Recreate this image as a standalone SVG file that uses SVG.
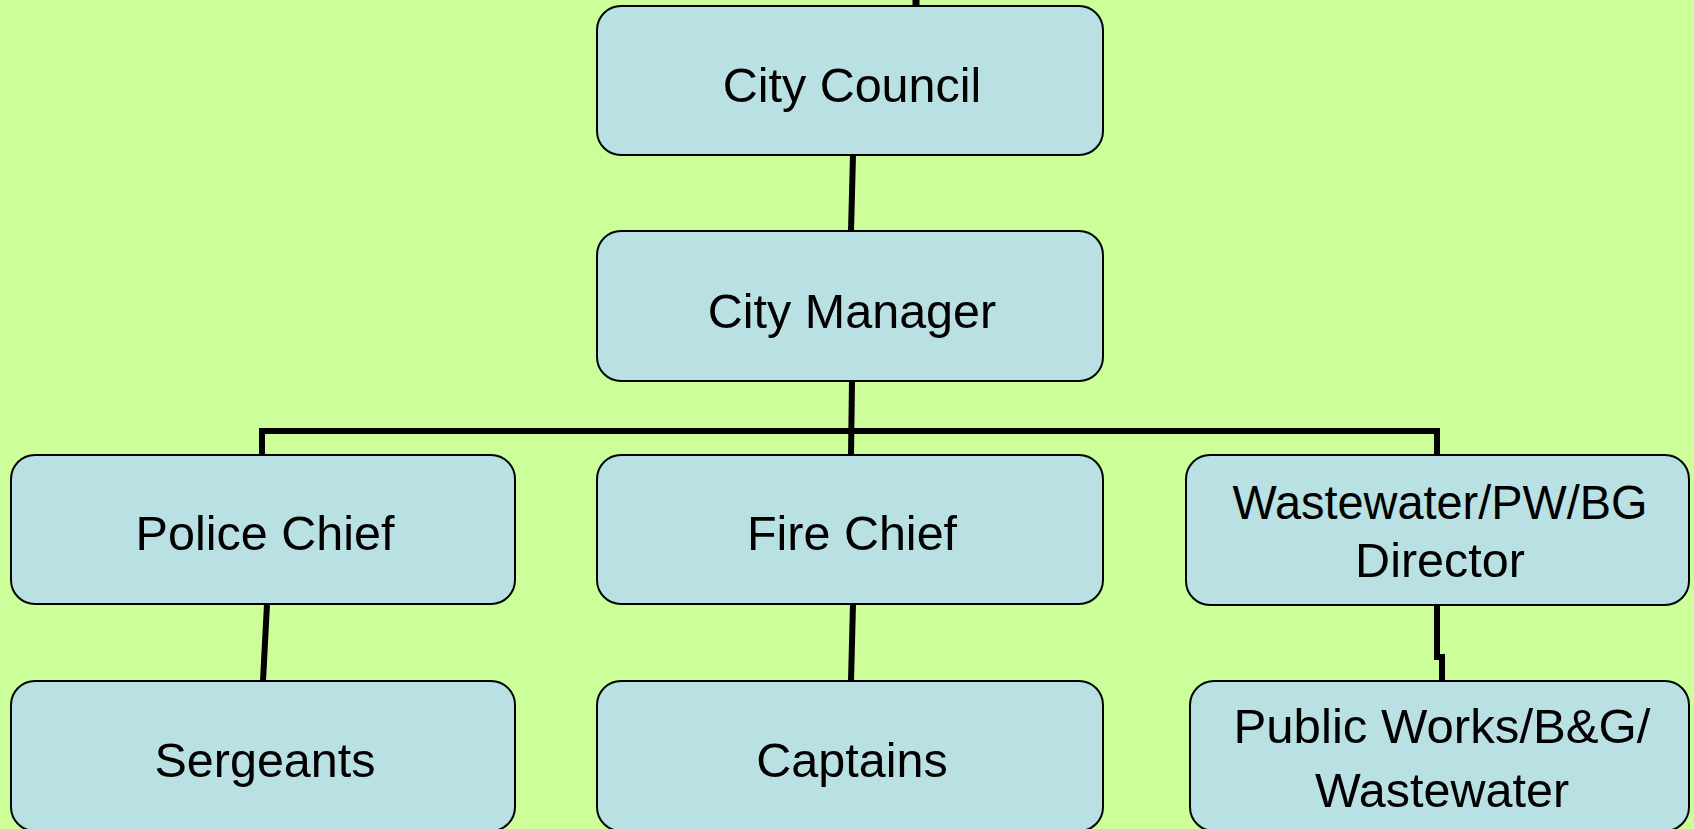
<svg xmlns="http://www.w3.org/2000/svg" width="1694" height="829" viewBox="0 0 1694 829">
<style>
.box{fill:#B9E0E3;stroke:#000;stroke-width:2}
.lbl{font-family:"Liberation Sans",Arial,sans-serif;font-size:48.5px;fill:#000;text-anchor:middle}
.con{fill:none;stroke:#000;stroke-width:6;stroke-linejoin:miter}
</style>
<rect width="1694" height="829" fill="#CCFF99"/>
<g id="connectors">
<line class="con" x1="916" y1="0" x2="916" y2="7" style="stroke-width:7"/>
<line class="con" x1="853" y1="155" x2="851" y2="231"/>
<line class="con" x1="852" y1="381" x2="851" y2="455"/>
<polyline class="con" points="262,455 262,431 1437,431 1437,455"/>
<line class="con" x1="267" y1="604" x2="263" y2="681"/>
<line class="con" x1="853" y1="604" x2="851" y2="681"/>
<polyline class="con" points="1437,605 1437,657 1442,657 1442,681"/>
</g>
<g id="city-council">
<rect class="box" x="597" y="6" width="506" height="149" rx="24"/>
<text class="lbl" x="852" y="102">City Council</text>
</g>
<g id="city-manager">
<rect class="box" x="597" y="231" width="506" height="150" rx="24"/>
<text class="lbl" x="852" y="328">City Manager</text>
</g>
<g id="police-chief">
<rect class="box" x="11" y="455" width="504" height="149" rx="24"/>
<text class="lbl" x="265" y="550">Police Chief</text>
</g>
<g id="fire-chief">
<rect class="box" x="597" y="455" width="506" height="149" rx="24"/>
<text class="lbl" x="852" y="550">Fire Chief</text>
</g>
<g id="wastewater-director">
<rect class="box" x="1186" y="455" width="503" height="150" rx="24"/>
<text class="lbl" x="1440" y="519" textLength="415" lengthAdjust="spacingAndGlyphs">Wastewater/PW/BG</text>
<text class="lbl" x="1440" y="577">Director</text>
</g>
<g id="sergeants">
<rect class="box" x="11" y="681" width="504" height="150" rx="24"/>
<text class="lbl" x="265" y="777">Sergeants</text>
</g>
<g id="captains">
<rect class="box" x="597" y="681" width="506" height="150" rx="24"/>
<text class="lbl" x="852" y="777">Captains</text>
</g>
<g id="public-works">
<rect class="box" x="1190" y="681" width="499" height="150" rx="24"/>
<text class="lbl" x="1442" y="743" textLength="417" lengthAdjust="spacingAndGlyphs">Public Works/B&amp;G/</text>
<text class="lbl" x="1442" y="807">Wastewater</text>
</g>
</svg>
